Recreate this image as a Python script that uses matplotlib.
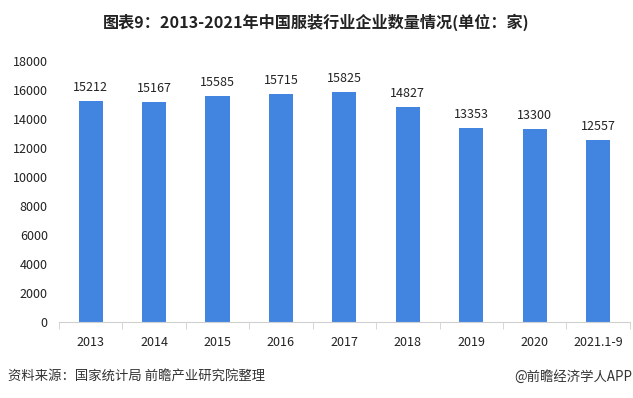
import matplotlib
matplotlib.use('Agg')
import matplotlib.pyplot as plt
import numpy as np

plt.rcParams['font.family'] = ['Noto Sans CJK SC', 'DejaVu Sans']

categories = ['2013', '2014', '2015', '2016', '2017', '2018', '2019', '2020', '2021.1-9']
counts = [15212, 15167, 15585, 15715, 15825, 14827, 13353, 13300, 12557]
yticks = [0, 2000, 4000, 6000, 8000, 10000, 12000, 14000, 16000, 18000]

fig = plt.figure(figsize=(6.33, 3.98), dpi=100)
ax = fig.add_axes([0.093, 0.191, 0.902, 0.656])

x = np.arange(len(categories))
ax.bar(x, counts, width=0.38, color='#4285E0', zorder=2)
for xi, v in zip(x, counts):
    ax.text(xi, v + 500, str(v), ha='center', va='bottom', fontsize=9, color='#222222')

ax.set_xlim(-0.5, len(categories) - 0.5)
ax.set_ylim(0, 18000)
ax.set_yticks(yticks)
ax.set_yticklabels([str(t) for t in yticks], fontsize=9, color='#222222')
ax.set_xticks(x)
ax.set_xticklabels(categories, fontsize=9, color='#222222')
ax.tick_params(axis='y', length=0, pad=8)
ax.tick_params(axis='x', length=0, pad=10)
# separators between categories on the axis line
ax.set_xticks(np.arange(-0.5, len(categories)), minor=True)
ax.tick_params(axis='x', which='minor', length=5, color='#d0d0d0', direction='out')

for s in ['top', 'right', 'left']:
    ax.spines[s].set_visible(False)
ax.spines['bottom'].set_color('#d0d0d0')

fig.text(0.5, 0.945, '图表9：2013-2021年中国服装行业企业数量情况(单位：家)',
         ha='center', va='center', fontsize=11.6, fontweight='bold', color='#222222')
fig.text(0.012, 0.053, '资料来源：国家统计局 前瞻产业研究院整理', ha='left', va='center',
         fontsize=9.6, color='#333333')
fig.text(0.999, 0.053, '@前瞻经济学人APP', ha='right', va='center',
         fontsize=9.6, color='#333333')

fig.savefig('out.png', dpi=100)
